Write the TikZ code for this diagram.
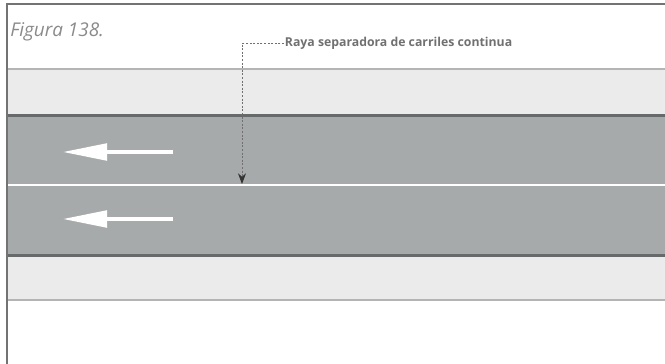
\documentclass[tikz,border=0pt]{standalone}
\usepackage{fontspec}
\setmainfont{Open Sans}
\usepackage{tikz}
\usetikzlibrary{arrows.meta, positioning}

\definecolor{asphalt}{HTML}{A7AAAA}
\definecolor{shoulder}{HTML}{EBEBEB}
\definecolor{edgeline}{HTML}{676A6A}
\definecolor{thinline}{HTML}{B4B4B4}
\definecolor{framegray}{HTML}{737373}
\definecolor{textgray}{HTML}{707070}
\definecolor{titlegray}{HTML}{8A8A8A}

\begin{document}
\begin{tikzpicture}[
    x=0.75pt, y=-0.75pt, line cap=butt,
    lane arrow/.style={draw=white, line width=2.4pt,
        -{Triangle[length=33pt, width=12.5pt]}},
    leader/.style={draw=textgray, line width=0.6pt,
        dash pattern=on 1.5pt off 1.2pt,
        -{Stealth[length=8pt, width=6pt, color=black!80]}},
    note/.style={text=textgray, font=\bfseries\fontsize{9.2}{11}\selectfont,
        inner sep=0.5pt}]

    \useasboundingbox (0,0) rectangle (665,364);

    % Define road bands
    \fill[shoulder] (7,69) rectangle (665,114);
    \fill[asphalt] (7,115) rectangle (665,256);
    \fill[shoulder] (7,256) rectangle (665,300);
    \draw[thinline, line width=1.4pt] (7,69) -- (665,69);
    \draw[thinline, line width=1.4pt] (7,300) -- (665,300);
    \draw[edgeline, line width=2.3pt] (7,115.5) -- (665,115.5);
    \draw[edgeline, line width=2.3pt] (7,255.5) -- (665,255.5);
    \draw[white, line width=1.5pt] (7,185) -- (665,185);

    % Frame
    \draw[framegray, line width=1.5pt] (7,364) -- (7,4) -- (665,4);

    % Define labels
    \node[anchor=base west, text=titlegray, inner sep=0pt,
        font=\itshape\fontsize{14.2}{16}\selectfont] (fig) at (10,36.5) {Figura 138.};
    \node[note, anchor=base west] (raya) at (284,46.5) {Raya separadora de carriles continua};
    \coordinate (bend) at (242,42);
    \coordinate (line) at (242,184);

    % Lane arrows
    \coordinate (tailA) at (173,152);
    \coordinate (tipA) at (63,152);
    \coordinate (tailB) at (173,219);
    \coordinate (tipB) at (63,219);
    \draw[lane arrow] (tailA) -- (tipA);
    \draw[lane arrow] (tailB) -- (tipB);

    % Draw leader
    \draw[leader] (raya.west) -- (raya.west -| bend) -- (line);
\end{tikzpicture}
\end{document}
